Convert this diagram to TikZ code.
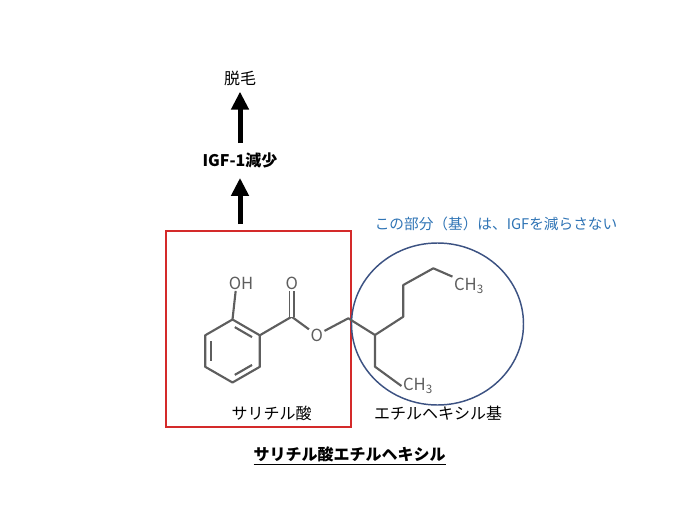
\documentclass[tikz,border=0pt]{standalone}
\usepackage{fontspec}
\setmainfont{Noto Sans CJK JP}
\usetikzlibrary{arrows.meta,calc,shapes.geometric}
\definecolor{boxred}{HTML}{D42A2A}
\definecolor{ringblue}{HTML}{3C5282}
\definecolor{noteblue}{HTML}{2F74B5}
\definecolor{bondgray}{HTML}{5E5E5E}
\begin{document}
\begin{tikzpicture}[x=0.75pt, y=-0.75pt, font=\fontsize{12pt}{14pt}\selectfont,
		jp/.style = {inner sep=0pt},
		bond/.style = {draw=bondgray, line width=1.6pt, line join=round},
		atom/.style = {text=bondgray, inner sep=1pt, font=\fontsize{12.5pt}{13pt}\selectfont},
		big/.style = {line width=3.75pt, -{Triangle[width=12.75pt,length=13.5pt]}}]
		\useasboundingbox (0,0) rectangle (690,518);
		% texts and arrows
		\node[jp] (hair) at (240,78) {脱毛};
		\node[jp, font=\fontsize{12pt}{14pt}\selectfont\bfseries] (igf) at (240,160) {IGF-1減少};
		\node[draw=boxred, line width=1.5pt, minimum width=138.75pt, minimum height=147pt, inner sep=0pt] (acid) at (258.5,329) {};
		\node[ellipse, draw=ringblue, line width=1.1pt, minimum width=129pt, minimum height=121.5pt, inner sep=0pt] (group) at (437.5,324) {};
		\draw[big, shorten <=6.75pt, shorten >=4.5pt] (igf) -- (hair);
		\draw[big, shorten <=4.5pt, shorten >=7.5pt] (acid.north -| igf) -- (igf);
		\node[jp, text=noteblue, font=\fontsize{11pt}{13pt}\selectfont] (note) at (496,224) {この部分（基）は、IGFを減らさない};
		\node[jp] (acidname) at (271.7,413) {サリチル酸};
		\node[jp] (groupname) at (438,413) {エチルヘキシル基};
		\node[jp, font=\fontsize{12pt}{14pt}\selectfont\bfseries] (title) at (349.5,456) {\underline{サリチル酸エチルヘキシル}};
		% ring
		\coordinate (ctr) at (232.5,351);
		\coordinate (r1) at (232.5,319.5);
		\coordinate (r2) at (259.8,335.3);
		\coordinate (r3) at (259.8,366.8);
		\coordinate (r4) at (232.5,382.5);
		\coordinate (r5) at (205.2,366.8);
		\coordinate (r6) at (205.2,335.3);
		\draw[bond] (r1) -- (r2) -- (r3) -- (r4) -- (r5) -- (r6) -- cycle;
		\foreach \a/\b in {r1/r2, r3/r4, r5/r6}
			\draw[bond, shorten <=2pt, shorten >=2pt] ($(ctr)!0.8!(\a)$) -- ($(ctr)!0.8!(\b)$);
		% chain
		\node[atom] (oh) at (241,283) {OH};
		\node[atom] (o1) at (291.7,283) {O};
		\node[atom] (o2) at (316.7,335) {O};
		\node[atom] (ch3a) at (469,286) {CH\textsubscript{3}};
		\node[atom] (ch3b) at (418,386) {CH\textsubscript{3}};
		\coordinate (cc) at (291.7,316.7);
		\coordinate (m1) at (348.3,318.3);
		\coordinate (m2) at (375,335);
		\coordinate (m3) at (403.3,316.7);
		\coordinate (m4) at (403.3,285);
		\coordinate (m5) at (433.3,268.3);
		\coordinate (m6) at (375,366.7);
		\draw[bond] (r1) -- ([xshift=-4pt]oh.south);
		\draw[bond] (r2) -- (cc) -- (o2) -- (m1) -- (m2) -- (m3) -- (m4) -- (m5) -- (ch3a.north west);
		\draw[bond] (m2) -- (m6) -- (ch3b.west);
		\draw[bond, double, double distance=2pt, line width=1.2pt] (cc) -- (o1);
	\end{tikzpicture}
\end{document}
